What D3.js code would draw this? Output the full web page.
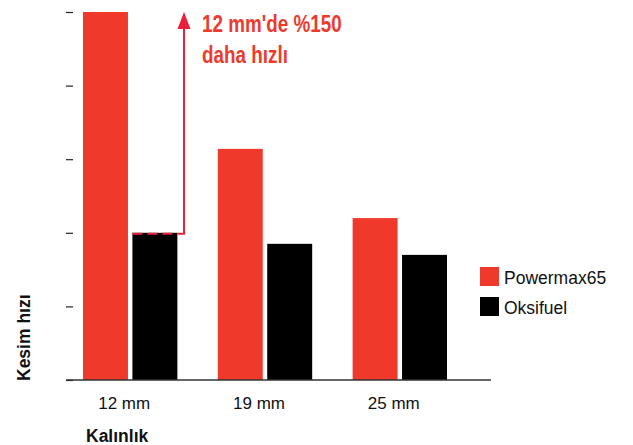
<!DOCTYPE html>
<html>
<head>
<meta charset="utf-8">
<script src="https://cdn.jsdelivr.net/npm/d3@7"></script>
<style>
  body { margin: 0; background: #fff; }
  svg { display: block; }
</style>
</head>
<body>
<script>
// chart values
var thicknesses = ["12 mm", "19 mm", "25 mm"];
var seriesNames = ["Powermax65", "Oksifuel"];
var powermax = [5, 3.14, 2.2];
var oksifuel = [2, 1.85, 1.7];
var yTicks = [0, 1, 2, 3, 4, 5];
var colors = ["#ef3a2b", "#000000"];

var W = 633, H = 445;
var svg = d3.select("body").append("svg")
  .attr("width", W)
  .attr("height", H);

var rows = thicknesses.map(function(t, i){
  return {cat: t, values: [powermax[i], oksifuel[i]]};
});

var x0 = d3.scaleBand()
  .domain(thicknesses)
  .range([83, 447])
  .paddingInner(0.3)
  .paddingOuter(0);

var x1 = d3.scaleBand()
  .domain(seriesNames)
  .range([0, x0.bandwidth()])
  .paddingInner(0.09)
  .paddingOuter(0);

var y = d3.scaleLinear()
  .domain([0, 5])
  .range([380, 12]);

// y ticks only, no axis line
var yAxis = d3.axisLeft(y).tickValues(yTicks).tickSize(7).tickFormat("");
var gy = svg.append("g").attr("transform", "translate(73,0)").call(yAxis);
gy.select(".domain").remove();
gy.selectAll(".tick line").attr("stroke", "#222").attr("stroke-width", 1.2);

// bars
var groups = svg.selectAll("g.grp")
  .data(rows)
  .enter().append("g")
  .attr("class", "grp")
  .attr("transform", function(d){ return "translate(" + x0(d.cat) + ",0)"; });

groups.selectAll("rect")
  .data(function(d){ return d.values.map(function(v, i){ return {name: seriesNames[i], v: v, i: i}; }); })
  .enter().append("rect")
  .attr("x", function(d){ return x1(d.name); })
  .attr("y", function(d){ return y(d.v); })
  .attr("width", x1.bandwidth())
  .attr("height", function(d){ return y(0) - y(d.v); })
  .attr("fill", function(d){ return colors[d.i]; });

// baseline
svg.append("line")
  .attr("x1", 66).attr("x2", 491)
  .attr("y1", y(0)).attr("y2", y(0))
  .attr("stroke", "#333").attr("stroke-width", 1.5);

// x tick labels
svg.selectAll("text.xlab")
  .data(thicknesses)
  .enter().append("text")
  .attr("class", "xlab")
  .attr("x", function(d){ return x0(d) + x0.bandwidth() / 2 - 6; })
  .attr("y", 409)
  .attr("text-anchor", "middle")
  .style("font-family", "Liberation Sans, Arial, sans-serif")
  .style("font-size", "17px")
  .style("fill", "#111")
  .text(function(d){ return d; });

// axis titles
svg.append("text")
  .attr("x", 86).attr("y", 442)
  .style("font-family", "Liberation Sans, Arial, sans-serif")
  .style("font-size", "17.5px")
  .style("font-weight", "bold")
  .style("fill", "#111")
  .text("Kalınlık");

svg.append("text")
  .attr("transform", "translate(30,381) rotate(-90)")
  .style("font-family", "Liberation Sans, Arial, sans-serif")
  .style("font-size", "17.5px")
  .style("font-weight", "bold")
  .style("fill", "#111")
  .text("Kesim hızı");

// annotation: dashed line on top of the Oksifuel 12 mm bar, then arrow up
var annRed = "#e8203a";
var ox = x0(thicknesses[0]) + x1("Oksifuel");
var oy = y(oksifuel[0]) + 1;
var ax = 184;
svg.append("line")
  .attr("x1", ox).attr("x2", ox + x1.bandwidth())
  .attr("y1", oy).attr("y2", oy)
  .attr("stroke", annRed).attr("stroke-width", 2)
  .attr("stroke-dasharray", "10,5");
svg.append("path")
  .attr("d", "M" + (ox + x1.bandwidth()) + "," + oy + " H" + ax + " V" + (y(powermax[0]) + 14))
  .attr("fill", "none")
  .attr("stroke", annRed).attr("stroke-width", 2);
svg.append("path")
  .attr("d", "M" + ax + "," + y(powermax[0]) + " L" + (ax - 6.5) + "," + (y(powermax[0]) + 17) + " L" + (ax + 6.5) + "," + (y(powermax[0]) + 17) + "Z")
  .attr("fill", annRed);

// condensed bold look: squeeze Liberation Sans Bold horizontally
var ann = svg.append("text")
  .attr("transform", "translate(202,0) scale(0.82,1)")
  .style("font-family", "Liberation Sans, Arial, sans-serif")
  .style("font-size", "23px")
  .style("font-weight", "bold")
  .style("fill", "#ee3a2c");
ann.append("tspan").attr("x", 0).attr("y", 32).text("12 mm'de %150");
ann.append("tspan").attr("x", 0).attr("y", 63).text("daha hızlı");

// legend
var leg = svg.selectAll("g.leg")
  .data(seriesNames)
  .enter().append("g")
  .attr("class", "leg")
  .attr("transform", function(d, i){ return "translate(480," + (267 + i * 30) + ")"; });
leg.append("rect")
  .attr("width", 19).attr("height", 19)
  .attr("fill", function(d, i){ return colors[i]; });
leg.append("text")
  .attr("x", 24).attr("y", 17)
  .style("font-family", "Liberation Sans, Arial, sans-serif")
  .style("font-size", "17.5px")
  .style("fill", "#111")
  .text(function(d){ return d; });
</script>
</body>
</html>
